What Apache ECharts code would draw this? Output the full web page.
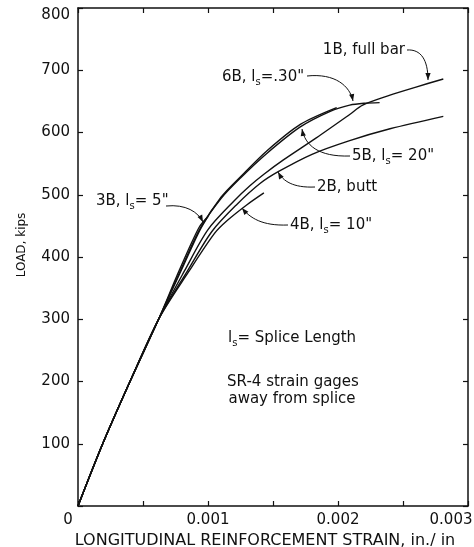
<!DOCTYPE html>
<html><head><meta charset="utf-8">
<script src="https://cdn.jsdelivr.net/npm/echarts@6/dist/echarts.min.js"></script>
<style>html,body{margin:0;padding:0;background:#fff}#c{width:474px;height:547px}</style>
</head><body><div id="c"></div>
<script>
// ---- data (strain in in./in., load in kips) ----
const xTickLabels = ['0', '0.001', '0.002', '0.003'];
const yTickLabels = ['100', '200', '300', '400', '500', '600', '700', '800'];
const seriesNames = ['1B, full bar', '2B, butt', '3B', '4B', '5B', '6B'];
const bar1B = [[0,0],[0.00019,100],[0.00040,200],[0.00062,300],[0.00082,378],[0.00100,444],[0.00120,490],[0.00132,514],[0.00143,533],[0.00158,556],[0.00183,591],[0.00209,629],[0.00219,644],[0.00240,660],[0.00260,673],[0.00281,686]];
const butt2B = [[0,0],[0.00019,100],[0.00040,200],[0.00062,300],[0.00084,377],[0.00103,441],[0.00122,484],[0.00140,518],[0.00154,537],[0.00180,565],[0.00209,587],[0.00240,606],[0.00281,626]];
const splice3B = [[0,0],[0.00019,100],[0.00040,200],[0.00062,300],[0.00078,379],[0.00093,447],[0.00100,465]];
const splice4B = [[0,0],[0.00019,100],[0.00040,200],[0.00062,300],[0.00085,376],[0.00105,438],[0.00115,459],[0.00130,484],[0.00143,503]];
const splice5B = [[0,0],[0.00019,100],[0.00040,200],[0.00062,300],[0.00080,381],[0.00095,448],[0.00110,496],[0.00126,531],[0.00145,570],[0.00171,613],[0.00199,640]];
const splice6B = [[0,0],[0.00019,100],[0.00040,200],[0.00062,300],[0.00079,379],[0.00094,446],[0.00110,494],[0.00125,527],[0.00145,566],[0.00171,609],[0.00194,634],[0.00209,644],[0.00220,647],[0.00232,648]];

// ---- annotation layout (pixels) ----
const FONT = '"DejaVu Sans", sans-serif';
const annotations = [
  {text:'1B, full bar', x:405, y:50, align:'right', lead:[407,50, 421,49, 428,60, 428,80]},
  {text:'6B, l{s|s}=.30"', x:222, y:77, align:'left', lead:[307,76, 335,73, 350,86, 353,101]},
  {text:'5B, l{s|s}= 20"', x:352, y:156, align:'left', lead:[350,156, 318,157, 305,145, 302,129]},
  {text:'2B, butt', x:317, y:187, align:'left', lead:[315,187, 293,188, 283,181, 278,172]},
  {text:'4B, l{s|s}= 10"', x:290, y:225, align:'left', lead:[288,225, 262,226, 250,218, 242,208]},
  {text:'3B, l{s|s}= 5"', x:96, y:201, align:'left', lead:[166,206, 186,204, 198,212, 203,222]},
  {text:'l{s|s}= Splice Length', x:228, y:338, align:'left'},
  {text:'SR-4 strain gages', x:293, y:382, align:'center'},
  {text:'away from splice', x:292, y:399, align:'center'}
];

const chart = echarts.init(document.getElementById('c'), null, {renderer:'canvas'});
const axisLine = {show:true, onZero:false, lineStyle:{color:'#111', width:1.5}};
const tickIn = {show:true, inside:true, length:5, lineStyle:{color:'#111', width:1.2}};

function mk(name, data){
  return {name, type:'line', data, showSymbol:false, smooth:0.3,
    lineStyle:{color:'#111', width:1.4}, silent:true, animation:false, z:3};
}

const graphic = [];
annotations.forEach(a => {
  graphic.push({type:'text', silent:true, z:10, style:{
    text:a.text, x:a.x, y:a.y, align:a.align, verticalAlign:'middle',
    font:'15px ' + FONT, fill:'#111',
    rich:{s:{fontSize:10, fontFamily:'DejaVu Sans', padding:[10,0,0,0], verticalAlign:'bottom'}}
  }});
  if (a.lead){
    const [x1,y1,c1x,c1y,c2x,c2y,x2,y2] = a.lead;
    graphic.push({type:'bezierCurve', silent:true, z:10,
      shape:{x1,y1,cpx1:c1x,cpy1:c1y,cpx2:c2x,cpy2:c2y,x2,y2},
      style:{stroke:'#111', lineWidth:1, fill:null}});
    const dx = x2-c2x, dy = y2-c2y, L = Math.hypot(dx,dy);
    const ux = dx/L, uy = dy/L, len = 7, hw = 2.6;
    const bx = x2-ux*len, by = y2-uy*len;
    graphic.push({type:'polygon', silent:true, z:10,
      shape:{points:[[x2,y2],[bx-uy*hw, by+ux*hw],[bx+uy*hw, by-ux*hw]]},
      style:{fill:'#111'}});
  }
});

chart.setOption({
  animation:false,
  backgroundColor:'#fff',
  grid:{left:78, right:6, top:8, bottom:41, containLabel:false, outerBoundsMode:'none'},
  xAxis:[{
    type:'value', min:0, max:0.003, interval:0.0005, position:'bottom',
    axisLine, axisTick:tickIn, splitLine:{show:false},
    axisLabel:{show:true, margin:7, color:'#111', fontSize:15, fontFamily:FONT,
      showMinLabel:true, showMaxLabel:true,
      formatter:v => {
        const k = Math.round(v*10000);
        if (k % 10 !== 0) return '';
        const lab = xTickLabels[k/10];
        if (k === 0) return '{z|' + lab + '}';
        if (k === 30) return '{r|' + lab + '}';
        return lab;
      },
      rich:{z:{fontSize:15, fontFamily:FONT, padding:[0,20,0,0], color:'#111'},
            r:{fontSize:15, fontFamily:FONT, padding:[0,34,0,0], color:'#111'}}},
    name:'LONGITUDINAL REINFORCEMENT STRAIN, in./ in', nameLocation:'middle', nameGap:22,
    nameTextStyle:{fontSize:16, fontFamily:FONT, color:'#111', padding:[0,16,0,0]}
  },{
    type:'value', min:0, max:0.003, interval:0.0005, position:'top',
    axisLine, axisTick:tickIn, axisLabel:{show:false}, splitLine:{show:false}
  }],
  yAxis:[{
    type:'value', min:0, max:800, interval:100, position:'left',
    axisLine, axisTick:tickIn, splitLine:{show:false},
    axisLabel:{margin:8, color:'#111', fontSize:15, fontFamily:FONT,
      formatter:v => v === 0 ? '' : (v === 800 ? '{t|' + yTickLabels[7] + '}' : yTickLabels[v/100 - 1]),
      rich:{t:{fontSize:15, fontFamily:FONT, padding:[14,0,0,0], color:'#111'}}},
    name:'LOAD, kips', nameLocation:'middle', nameGap:50, nameRotate:90,
    nameTextStyle:{fontSize:12, fontFamily:FONT, color:'#111', padding:[0,0,0,24]}
  },{
    type:'value', min:0, max:800, interval:100, position:'right',
    axisLine, axisTick:tickIn, axisLabel:{show:false}, splitLine:{show:false}
  }],
  series:[mk(seriesNames[0], bar1B), mk(seriesNames[1], butt2B), mk(seriesNames[2], splice3B),
          mk(seriesNames[3], splice4B), mk(seriesNames[4], splice5B), mk(seriesNames[5], splice6B)],
  graphic
});
</script></body></html>
